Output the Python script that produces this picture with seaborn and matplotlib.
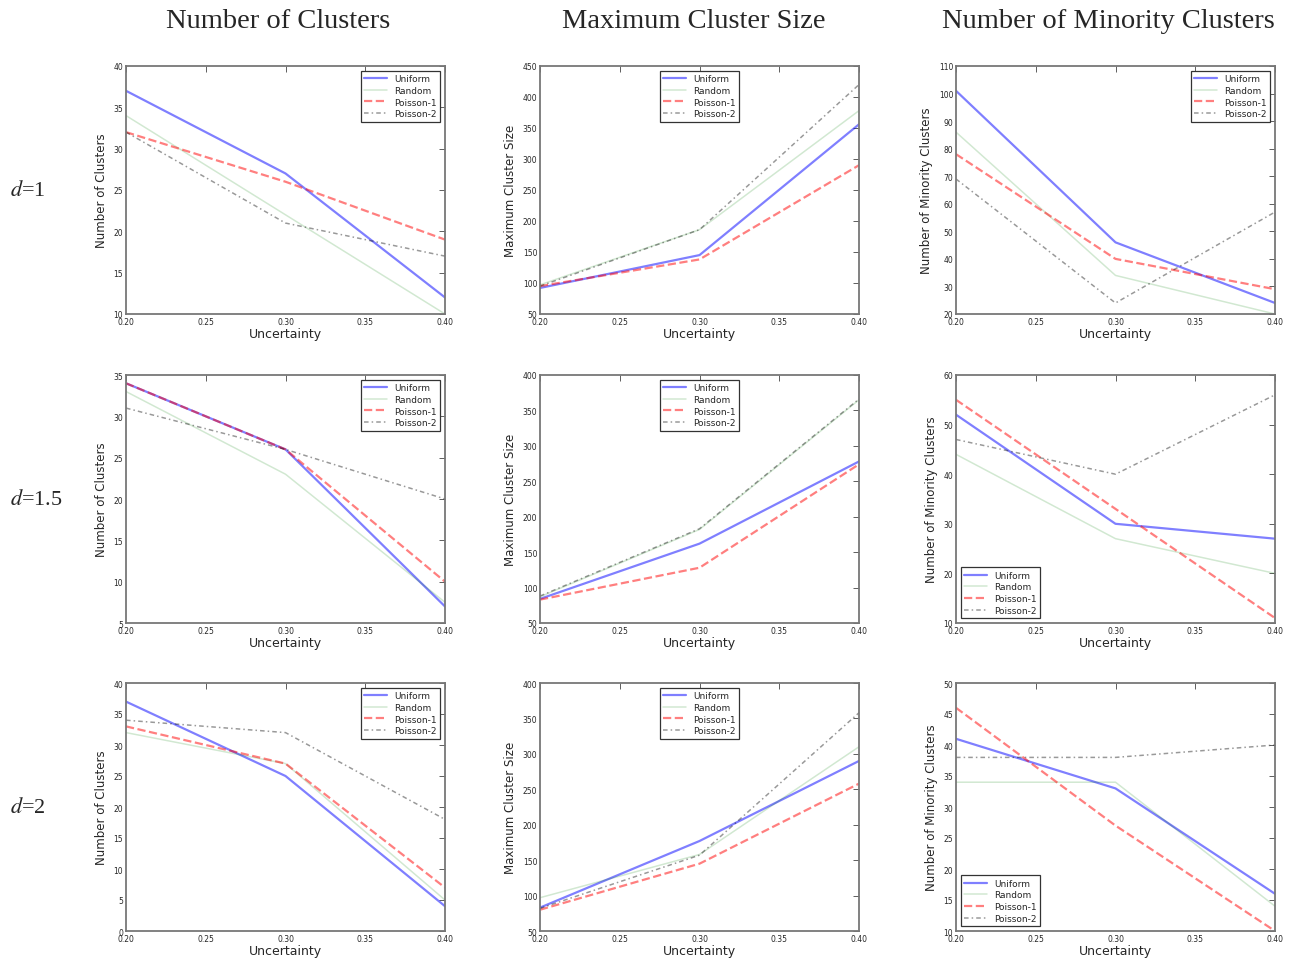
import numpy as np
import pandas as pd
import seaborn as sns
import matplotlib.pyplot as plt
from matplotlib.ticker import MultipleLocator, FormatStrFormatter

# --------------------
# Data
# --------------------
UNCERTAINTY = [0.20, 0.30, 0.40]
SCHEMES = ["Uniform", "Random", "Poisson-1", "Poisson-2"]
COL_TITLES = ["Number of Clusters", "Maximum Cluster Size", "Number of Minority Clusters"]
ROW_LABELS = ["1", "1.5", "2"]

# each list: Uniform, Random, Poisson-1, Poisson-2
CLUSTERS_D1 = [[37, 27, 12], [34, 22, 10], [32, 26, 19], [32, 21, 17]]
MAXSIZE_D1 = [[92, 145, 356], [97, 186, 378], [95, 138, 290], [95, 186, 420]]
MINORITY_D1 = [[101, 46, 24], [86, 34, 20], [78, 40, 29], [69, 24, 57]]

CLUSTERS_D15 = [[34, 26, 7], [33, 23, 7.5], [34, 26, 10], [31, 26, 20]]
MAXSIZE_D15 = [[84, 162, 278], [87, 182, 365], [83, 128, 274], [88, 183, 366]]
MINORITY_D15 = [[52, 30, 27], [44, 27, 20], [55, 33, 11], [47, 40, 56]]

CLUSTERS_D2 = [[37, 25, 4], [32, 27, 5], [33, 27, 7], [34, 32, 18]]
MAXSIZE_D2 = [[83, 177, 290], [97, 158, 310], [80, 145, 258], [82, 157, 358]]
MINORITY_D2 = [[41, 33, 16], [34, 34, 14], [46, 27, 10], [38, 38, 40]]

PANELS = [
    [CLUSTERS_D1, MAXSIZE_D1, MINORITY_D1],
    [CLUSTERS_D15, MAXSIZE_D15, MINORITY_D15],
    [CLUSTERS_D2, MAXSIZE_D2, MINORITY_D2],
]
YLIMS = [
    [(10, 40), (50, 450), (20, 110)],
    [(5, 35), (50, 400), (10, 60)],
    [(0, 40), (50, 400), (10, 50)],
]
YSTEPS = [[5, 50, 10], [5, 50, 10], [5, 50, 5]]
LEGEND_LOCS = [
    ["upper right", "upper center", "upper right"],
    ["upper right", "upper center", "lower left"],
    ["upper right", "upper center", "lower left"],
]

# line styles per scheme
STYLES = {
    "Uniform": dict(color="blue", linestyle="-", linewidth=1.6, alpha=0.5),
    "Random": dict(color="green", linestyle="-", linewidth=1.1, alpha=0.18),
    "Poisson-1": dict(color="red", linestyle="--", linewidth=1.6, alpha=0.5),
    "Poisson-2": dict(color="black", linestyle=(0, (3, 2, 1, 2)), linewidth=1.1, alpha=0.4),
}


def main():
    sns.set_style("white")
    plt.rcParams["font.family"] = ["DejaVu Sans"]
    plt.rcParams["mathtext.fontset"] = "stix"

    fig = plt.figure(figsize=(12.96, 9.62), dpi=100)

    lefts = [126, 540, 956]
    bottoms = [315, 624, 932]
    w, h = 319, 248
    W, H = 1296, 962

    for r in range(3):
        for c in range(3):
            ax = fig.add_axes([lefts[c] / W, 1 - bottoms[r] / H, w / W, h / H])
            values = PANELS[r][c]
            for name, vals in zip(SCHEMES, values):
                df = pd.DataFrame({"x": UNCERTAINTY, "y": vals})
                sns.lineplot(data=df, x="x", y="y", ax=ax, label=name, **STYLES[name])

            ax.set_xlim(0.20, 0.40)
            ax.set_ylim(*YLIMS[r][c])
            ax.xaxis.set_major_locator(MultipleLocator(0.05))
            ax.xaxis.set_major_formatter(FormatStrFormatter("%.2f"))
            ax.yaxis.set_major_locator(MultipleLocator(YSTEPS[r][c]))
            ax.tick_params(direction="in", top=True, right=True, labelsize=5.5,
                           length=4, width=0.6, color="#444444", pad=2)
            for sp in ax.spines.values():
                sp.set_color("#777777")
                sp.set_linewidth(1.3)

            ax.set_xlabel("Uncertainty", fontsize=9, labelpad=1)
            ax.set_ylabel(COL_TITLES[c], fontsize=8.5, labelpad=4)

            leg = ax.legend(loc=LEGEND_LOCS[r][c], fontsize=6.5, fancybox=False,
                            framealpha=1, borderpad=0.4, handlelength=2.5,
                            labelspacing=0.3)
            leg.get_frame().set_edgecolor("#333333")
            leg.get_frame().set_linewidth(0.9)

    # column titles
    title_x = [278, 694, 1108]
    for c, title in enumerate(COL_TITLES):
        fig.text(title_x[c] / W, 1 - 21 / H, title, ha="center", va="center",
                 fontsize=20.5, family="Liberation Serif")

    # row labels
    for r, lab in enumerate(ROW_LABELS):
        yc = (bottoms[r] - h / 2) / H
        fig.text(10 / W, 1 - yc, "$\\mathit{d}$=" + lab, ha="left", va="center",
                 fontsize=16, family="Liberation Serif")

    fig.savefig("out.png", dpi=100)
    plt.close(fig)


if __name__ == "__main__":
    main()
